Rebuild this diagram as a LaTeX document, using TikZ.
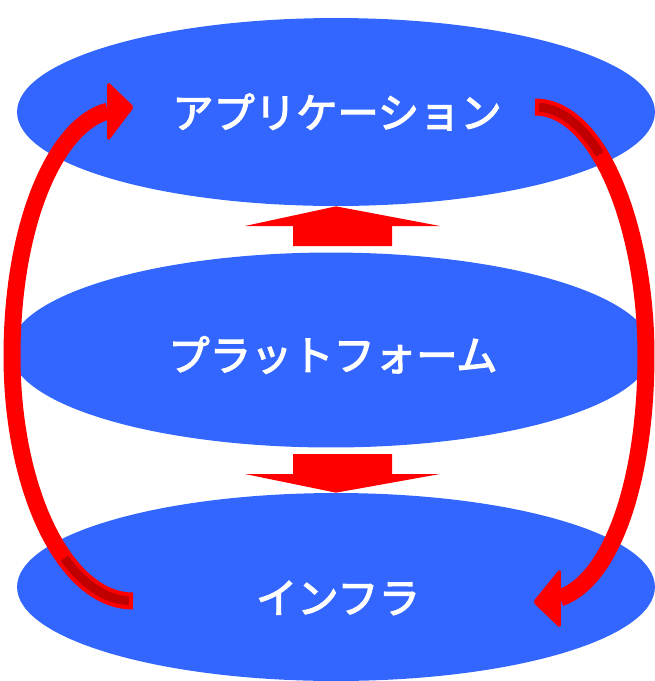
\documentclass[tikz,border=0pt]{standalone}
\usepackage{fontspec}
\usetikzlibrary{shapes.geometric}
\newfontfamily\jpfont{Noto Sans CJK JP}[FakeBold=3]
\definecolor{layerblue}{HTML}{3366FF}
\definecolor{tailred}{HTML}{C00000}
\tikzset{
  layer/.style={ellipse, fill=layerblue, inner sep=0pt},
  layertext/.style={text=white, inner sep=0pt,
    font=\jpfont\fontsize{23.5}{28}\selectfont},
  ringarrow/.style={draw=red, line width=0.34cm, line cap=butt,
    postaction={draw=tailred, line width=0.18cm,
      dash pattern=on 0pt off 0.08cm on 1.6cm off 50cm}},
  headtip/.style={fill=red, draw=red, line width=1pt, rounded corners=1pt},
  block/.style={fill=red}
}
\begin{document}
\begin{tikzpicture}[x=0.02cm,y=-0.02cm]
\useasboundingbox (0,0) rectangle (655,681);
% layers
\node[layer, minimum width=12.76cm, minimum height=3.76cm] (app) at (336,112) {};
\node[layer, minimum width=12.84cm, minimum height=3.9cm] (plat) at (331,350) {};
\node[layer, minimum width=12.76cm, minimum height=3.76cm] (infra) at (336,587) {};
\node[layertext] (appText) at (337,112) {アプリケーション};
\node[layertext] (platText) at (333,355) {プラットフォーム};
\node[layertext] (infraText) at (338,598) {インフラ};
% block arrows
\fill[block] (app.south) -- (440,226) -- (392,226) -- (392,246)
  -- (293,246) -- (293,226) -- (245,226) -- cycle;
\fill[block] (infra.north) -- (245,474) -- (293,474) -- (293,454)
  -- (392,454) -- (392,474) -- (440,474) -- cycle;
% curved arrows
\coordinate (infraTail) at (133,601);
\coordinate (appHead) at (108,111);
\coordinate (appTail) at (535,107);
\coordinate (infraHead) at (560,598);
\draw[ringarrow] (infraTail) .. controls (65,601) and (12,490) .. (12,356)
  .. controls (12,225) and (55,125) .. (appHead);
\filldraw[headtip, shift={(appHead)}] (0,-28) -- (25,-4) -- (0,29) -- cycle;
\draw[ringarrow] (appTail) .. controls (600,107) and (646,230) .. (646,355)
  .. controls (646,480) and (612,580) .. (infraHead);
\filldraw[headtip, shift={(infraHead)}] (0,-28) -- (-26,4) -- (0,29) -- cycle;
\end{tikzpicture}
\end{document}
